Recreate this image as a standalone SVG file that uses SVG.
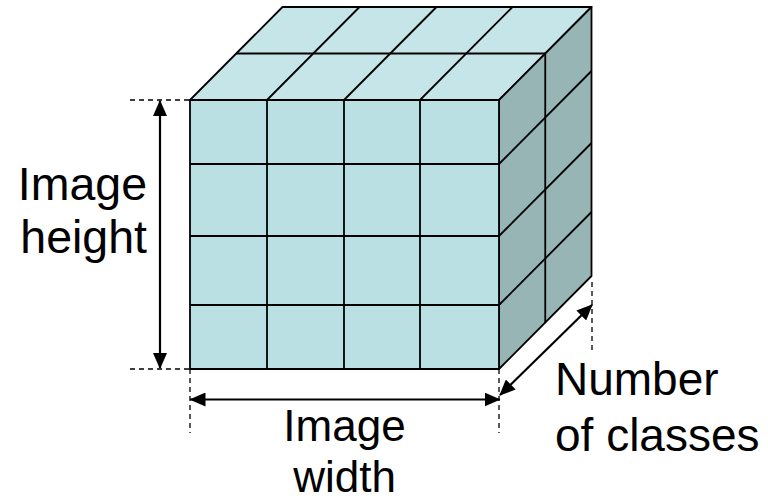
<svg xmlns="http://www.w3.org/2000/svg" width="768" height="502" viewBox="0 0 768 502">
<defs>
<style>
.edge{stroke:#000;stroke-width:1.8;fill:none;stroke-linejoin:round}
.face{stroke:#000;stroke-width:1.8;stroke-linejoin:round}
.top{fill:#C6E5E8}
.side{fill:#97B5B5}
.front{fill:#BBE0E4}
.dash{stroke:#000;stroke-width:1.3;stroke-dasharray:5,4;fill:none}
.dim{stroke:#000;stroke-width:2.2;fill:none}
.lbl{font-family:"Liberation Sans",Arial,sans-serif;fill:#000}
</style>
<marker id="ah" viewBox="0 0 16 14" refX="15" refY="7" markerWidth="16" markerHeight="14" markerUnits="userSpaceOnUse" orient="auto-start-reverse">
<path d="M0,0 L16,7 L0,14 Z" fill="#000"/>
</marker>
</defs>
<rect width="768" height="502" fill="#fff"/>
<g id="cube">
<polygon points="190,100 499,100 591.5,7 282.5,7" class="face top"/>
<polygon points="499,100 591.5,7 591.5,276 499,369" class="face side"/>
<rect x="190" y="100" width="309" height="269" class="face front"/>
<g class="edge">
<line x1="267" y1="100" x2="267" y2="369"/>
<line x1="344" y1="100" x2="344" y2="369"/>
<line x1="420" y1="100" x2="420" y2="369"/>
<line x1="190" y1="164" x2="499" y2="164"/>
<line x1="190" y1="236" x2="499" y2="236"/>
<line x1="190" y1="305" x2="499" y2="305"/>
<line x1="236.25" y1="53.5" x2="545.25" y2="53.5"/>
<line x1="267" y1="100" x2="359.5" y2="7"/>
<line x1="344" y1="100" x2="436.5" y2="7"/>
<line x1="420" y1="100" x2="512.5" y2="7"/>
<line x1="545.25" y1="53.5" x2="545.25" y2="322.5"/>
<line x1="499" y1="164" x2="591.5" y2="71"/>
<line x1="499" y1="236" x2="591.5" y2="143"/>
<line x1="499" y1="305" x2="591.5" y2="212"/>
</g>
</g>
<g id="connectors">
<line class="dash" x1="130" y1="100" x2="190" y2="100"/>
<line class="dash" x1="130" y1="369" x2="190" y2="369"/>
<line class="dash" x1="190" y1="369" x2="190" y2="433"/>
<line class="dash" x1="499" y1="369" x2="499" y2="433"/>
<line class="dash" x1="592" y1="282" x2="592" y2="350"/>
<line class="dim" x1="160" y1="101" x2="160" y2="368" marker-start="url(#ah)" marker-end="url(#ah)"/>
<line class="dim" x1="190.5" y1="399.5" x2="499.5" y2="399.5" marker-start="url(#ah)" marker-end="url(#ah)"/>
<line class="dim" x1="500" y1="395" x2="592" y2="305" marker-start="url(#ah)" marker-end="url(#ah)"/>
</g>
<g id="label-height">
<text class="lbl" x="147" y="200" font-size="46.5" text-anchor="end">Image</text>
<text class="lbl" x="147" y="253" font-size="46.5" text-anchor="end">height</text>
</g>
<g id="label-width">
<text class="lbl" x="344.5" y="441" font-size="44" text-anchor="middle">Image</text>
<text class="lbl" x="344.5" y="492" font-size="44" text-anchor="middle">width</text>
</g>
<g id="label-classes">
<text class="lbl" x="555" y="395" font-size="46">Number</text>
<text class="lbl" x="555" y="451" font-size="46">of classes</text>
</g>
</svg>
